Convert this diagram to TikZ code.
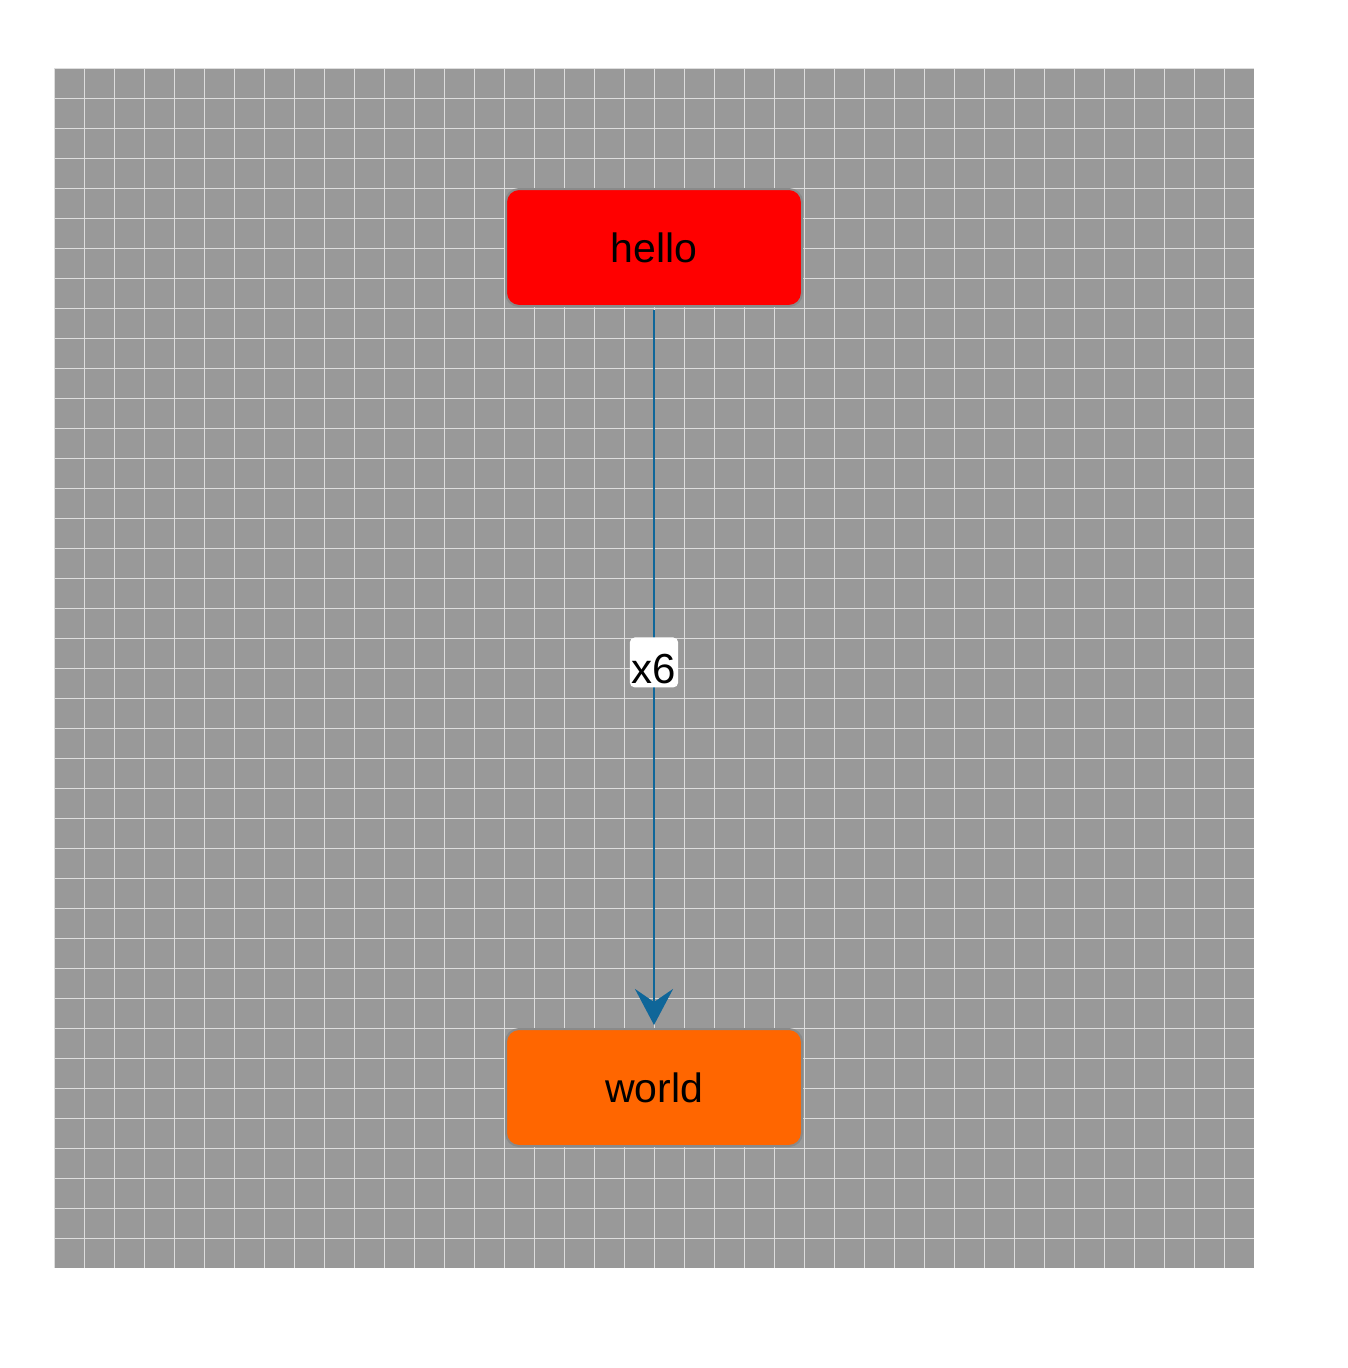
\documentclass[tikz,border=0pt]{standalone}
\usepackage{fontspec}
\setmainfont{Liberation Sans}
\usetikzlibrary{arrows.meta}
\definecolor{gridbg}{HTML}{999999}
\definecolor{gridln}{HTML}{DDDDDD}
\definecolor{boxedge}{HTML}{8A8A8A}
\definecolor{arrowcol}{HTML}{0F6699}
\definecolor{worldfill}{HTML}{FF6600}
\tikzset{
  box/.style={rectangle, rounded corners=13pt, minimum width=296pt, minimum height=117pt,
    draw=boxedge, line width=2pt, inner sep=0pt, font=\fontsize{41}{49}\selectfont},
  edgelabel/.style={fill=white, rounded corners=5pt, inner xsep=2pt, inner ysep=2pt,
    text height=44pt, text depth=2pt, font=\fontsize{42}{50}\selectfont},
  flow/.style={draw=arrowcol, line width=2.5pt, -{Stealth[length=36pt,width=38pt,inset=13pt]}}
}
\begin{document}
\begin{tikzpicture}[x=1pt,y=-1pt]
\useasboundingbox (0,0) rectangle (1348,1368);
\fill[gridbg] (54,68) rectangle (1254,1268);
\foreach \k in {0,...,39} {
  \draw[gridln, line width=1pt] ({54+30*\k},68) -- ({54+30*\k},1268);
  \draw[gridln, line width=1pt] (54,{68+30*\k}) -- (1254,{68+30*\k});
}
\node[box, fill=red] (hello) at (654,247.5) {hello};
\node[box, fill=worldfill] (world) at (654,1087.5) {world};
\draw[flow, shorten <=3pt, shorten >=3pt] (hello) -- node[edgelabel, pos=0.493] (lbl) {x6} (world);
\end{tikzpicture}
\end{document}
